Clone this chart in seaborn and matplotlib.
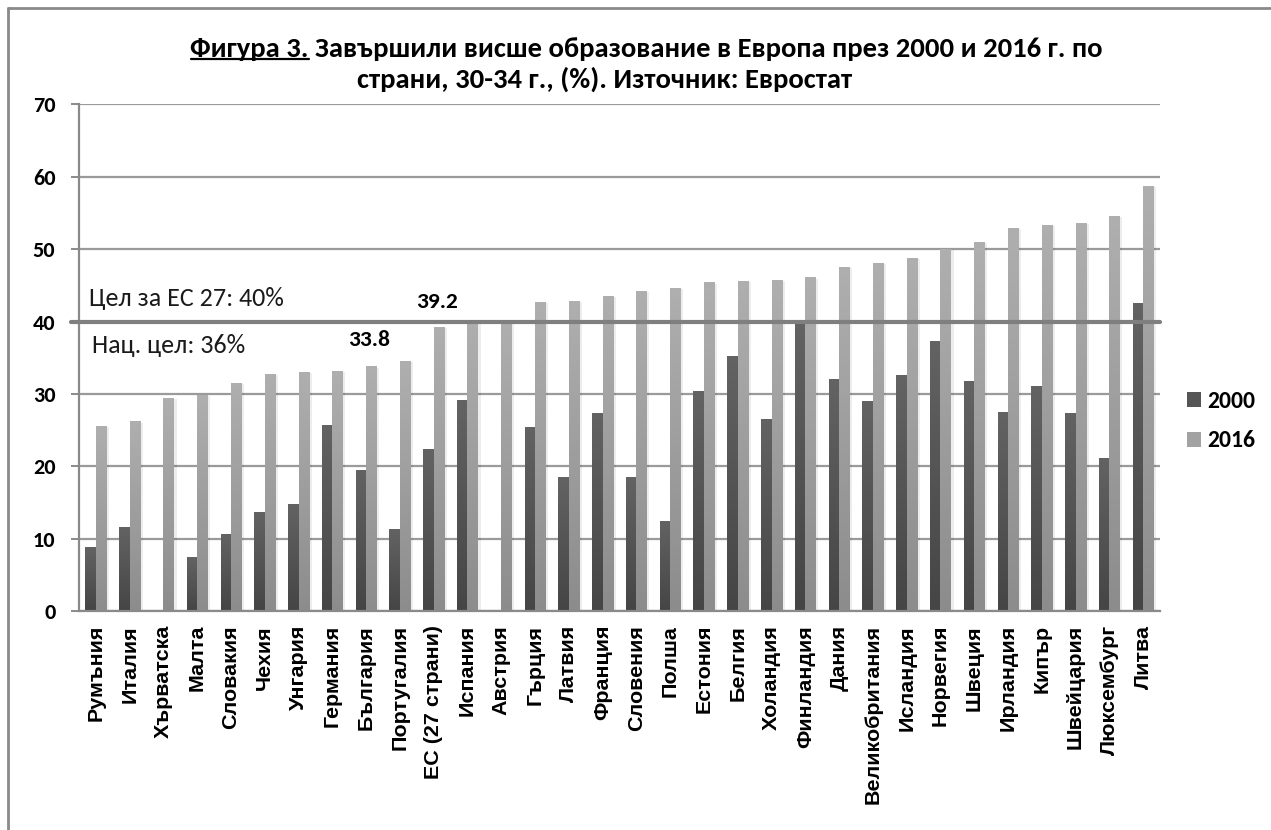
import numpy as np
import pandas as pd
import matplotlib
matplotlib.use("Agg")
import matplotlib.pyplot as plt
import seaborn as sns
from matplotlib.patches import Patch, Rectangle
from matplotlib.lines import Line2D
from matplotlib.colors import LinearSegmentedColormap
from matplotlib import font_manager
from matplotlib.font_manager import FontProperties

countries = ["Румъния", "Италия", "Хърватска", "Малта", "Словакия", "Чехия", "Унгария",
             "Германия", "България", "Португалия", "ЕС (27 страни)", "Испания", "Австрия",
             "Гърция", "Латвия", "Франция", "Словения", "Полша", "Естония", "Белгия",
             "Холандия", "Финландия", "Дания", "Великобритания", "Исландия", "Норвегия",
             "Швеция", "Ирландия", "Кипър", "Швейцария", "Люксембург", "Литва"]
v2000 = [8.9, 11.6, np.nan, 7.4, 10.6, 13.7, 14.8, 25.7, 19.5, 11.3, 22.4, 29.1, np.nan,
         25.4, 18.5, 27.4, 18.5, 12.5, 30.4, 35.2, 26.5, 40.2, 32.0, 29.0, 32.6, 37.3,
         31.8, 27.5, 31.1, 27.4, 21.2, 42.6]
v2016 = [25.6, 26.2, 29.5, 29.8, 31.5, 32.8, 33.0, 33.2, 33.8, 34.5, 39.2, 40.1, 40.1,
         42.7, 42.8, 43.6, 44.2, 44.6, 45.4, 45.6, 45.7, 46.1, 47.6, 48.1, 48.8, 50.0,
         51.0, 52.9, 53.4, 53.6, 54.6, 58.7]
years = ["2000", "2016"]
yticks = [0, 10, 20, 30, 40, 50, 60, 70]
eu_target = 40
title_head = "Фигура 3."
title_rest = " Завършили висше образование в Европа през 2000 и 2016 г. по"
title_line2 = "страни, 30-34 г., (%). Източник: Евростат"
note_eu = "Цел за ЕС 27: 40%"
note_nat = "Нац. цел: 36%"

df = pd.DataFrame({
    "country": countries * 2,
    "value": v2000 + v2016,
    "year": [years[0]] * len(countries) + [years[1]] * len(countries),
})

installed = {f.name for f in font_manager.fontManager.ttflist}
def pick(cands):
    for c in cands:
        if c in installed:
            return c
    return "DejaVu Sans"

narrow = pick(["Carlito", "Liberation Sans Narrow", "Roboto Condensed", "Noto Sans",
               "Open Sans", "Roboto"])
arial = pick(["Liberation Sans", "Arimo", "DejaVu Sans"])

sns.set_theme(style="white")
plt.rcParams["font.family"] = [narrow, "DejaVu Sans"]
plt.rcParams["text.color"] = "black"
plt.rcParams["xtick.color"] = "black"
plt.rcParams["ytick.color"] = "black"

W, H = 1271, 830
fig = plt.figure(figsize=(W / 100, H / 100), dpi=100)
fig.patch.set_facecolor("white")
ax = fig.add_axes([79 / W, 1 - 611 / H, (1160 - 79) / W, (611 - 104.5) / H])
fig.canvas.draw()
r = fig.canvas.get_renderer()

def text_w(text, size, **kw):
    t = fig.text(0, 0, text, fontsize=size, **kw)
    w = t.get_window_extent(r).width
    t.remove()
    return w

def fit_size(text, target_px, base=15, **kw):
    return base * target_px / text_w(text, base, **kw)

def fy(py):
    return 1 - py / H

c2000, c2016 = "#555555", "#a2a2a2"
sns.barplot(data=df, x="country", y="value", hue="year", palette=[c2000, c2016],
            width=0.62, ax=ax, legend=False, saturation=1, linewidth=0)

cm2000 = LinearSegmentedColormap.from_list("g0", ["#454545", "#636363"])
cm2016 = LinearSegmentedColormap.from_list("g1", ["#8c8c8c", "#afafaf"])
grad = np.linspace(0, 1, 256).reshape(-1, 1)
for p in list(ax.patches):
    h = p.get_height()
    if not np.isfinite(h) or h <= 0:
        continue
    x0, w = p.get_x(), p.get_width()
    fc = p.get_facecolor()
    cmap = cm2000 if fc[0] < 0.5 else cm2016
    ax.add_patch(Rectangle((x0 + w * 0.25, 0), w, h - 0.15, facecolor="#000000",
                           alpha=0.07, linewidth=0, zorder=1.5))
    im = ax.imshow(grad, extent=[x0, x0 + w, 0, h], origin="lower", cmap=cmap,
                   aspect="auto", zorder=2.5)
    im.set_clip_path(p)

ax.set_xlim(-0.5, len(countries) - 0.5)
ax.set_ylim(0, 70)
ax.grid(axis="y", color="#9a9a9a", linewidth=1.6, zorder=0)
ax.set_axisbelow(True)
ax.set_xlabel("")
ax.set_ylabel("")

for s in ["top", "right"]:
    ax.spines[s].set_visible(False)
for s in ["left", "bottom"]:
    ax.spines[s].set_color("#8a8a8a")
    ax.spines[s].set_linewidth(1.6)

xl_size = fit_size("Великобритания", 180, fontweight="bold", family=[arial, "DejaVu Sans"])
ax.set_xticks(range(len(countries)))
ax.set_xticklabels(countries, rotation=90, fontsize=xl_size, fontweight="bold",
                   family=[arial, "DejaVu Sans"])
ax.tick_params(axis="x", which="major", length=0, pad=10)
ax.set_xticks(np.arange(-0.5, len(countries), 1), minor=True)
ax.tick_params(axis="x", which="minor", length=5, width=1.4, color="#8a8a8a", direction="out")

yl_size = fit_size("40", 22.5, fontweight="bold")
ax.set_yticks(yticks)
ax.set_yticklabels([str(v) for v in yticks], fontsize=yl_size, fontweight="bold")
ax.tick_params(axis="y", length=6, width=1.4, color="#8a8a8a", direction="out", pad=11, left=True)

ax.plot([-0.75, len(countries) - 0.5], [eu_target, eu_target], color="#7f7f7f",
        linewidth=3, clip_on=False, zorder=4)

note_size = fit_size(note_eu, 195)
fig.text(89 / W, fy(306), note_eu, fontsize=note_size, va="baseline", ha="left", color="#1a1a1a")
fig.text(92 / W, fy(353), note_nat, fontsize=note_size, va="baseline", ha="left", color="#1a1a1a")
lab_size = fit_size("39.2", 42, fontweight="bold")
ax.text(8.1, 37.4, f"{v2016[8]:.1f}", fontsize=lab_size, fontweight="bold", ha="center",
        va="center")
ax.text(10.1, 42.7, f"{v2016[10]:.1f}", fontsize=lab_size, fontweight="bold", ha="center",
        va="center")

title_size = fit_size(title_rest, 795, fontweight="bold")
head_w = text_w(title_head, title_size, fontweight="bold")
full = title_head + title_rest
fig.text(1103 / W, fy(57), full, fontsize=title_size, fontweight="bold",
         ha="right", va="baseline")
x_start = 1103 - text_w(full, title_size, fontweight="bold")
fig.add_artist(Line2D([x_start / W, (x_start + head_w) / W], [fy(59.5), fy(59.5)],
                      color="black", linewidth=1.6, transform=fig.transFigure))
fig.text(357 / W, fy(88), title_line2, fontsize=title_size, fontweight="bold",
         ha="left", va="baseline")

leg_size = fit_size("2000", 48, fontweight="bold")
handles = [Patch(facecolor=c2000, edgecolor="none"), Patch(facecolor=c2016, edgecolor="none")]
fig.legend(handles, years, loc="center left", bbox_to_anchor=(1187 / W, fy(421)),
           frameon=False, prop=FontProperties(family=[narrow, "DejaVu Sans"], weight="bold",
                                              size=leg_size),
           handlelength=0.6, handleheight=0.6, labelspacing=0.8, handletextpad=0.25,
           borderpad=0, borderaxespad=0)

fig.add_artist(Line2D([8 / W, 8 / W], [0, fy(8)], color="#8a8a8a", linewidth=2,
                      transform=fig.transFigure))
fig.add_artist(Line2D([8 / W, 1], [fy(8), fy(8)], color="#8a8a8a", linewidth=2,
                      transform=fig.transFigure))

fig.savefig("out.png", dpi=100)
